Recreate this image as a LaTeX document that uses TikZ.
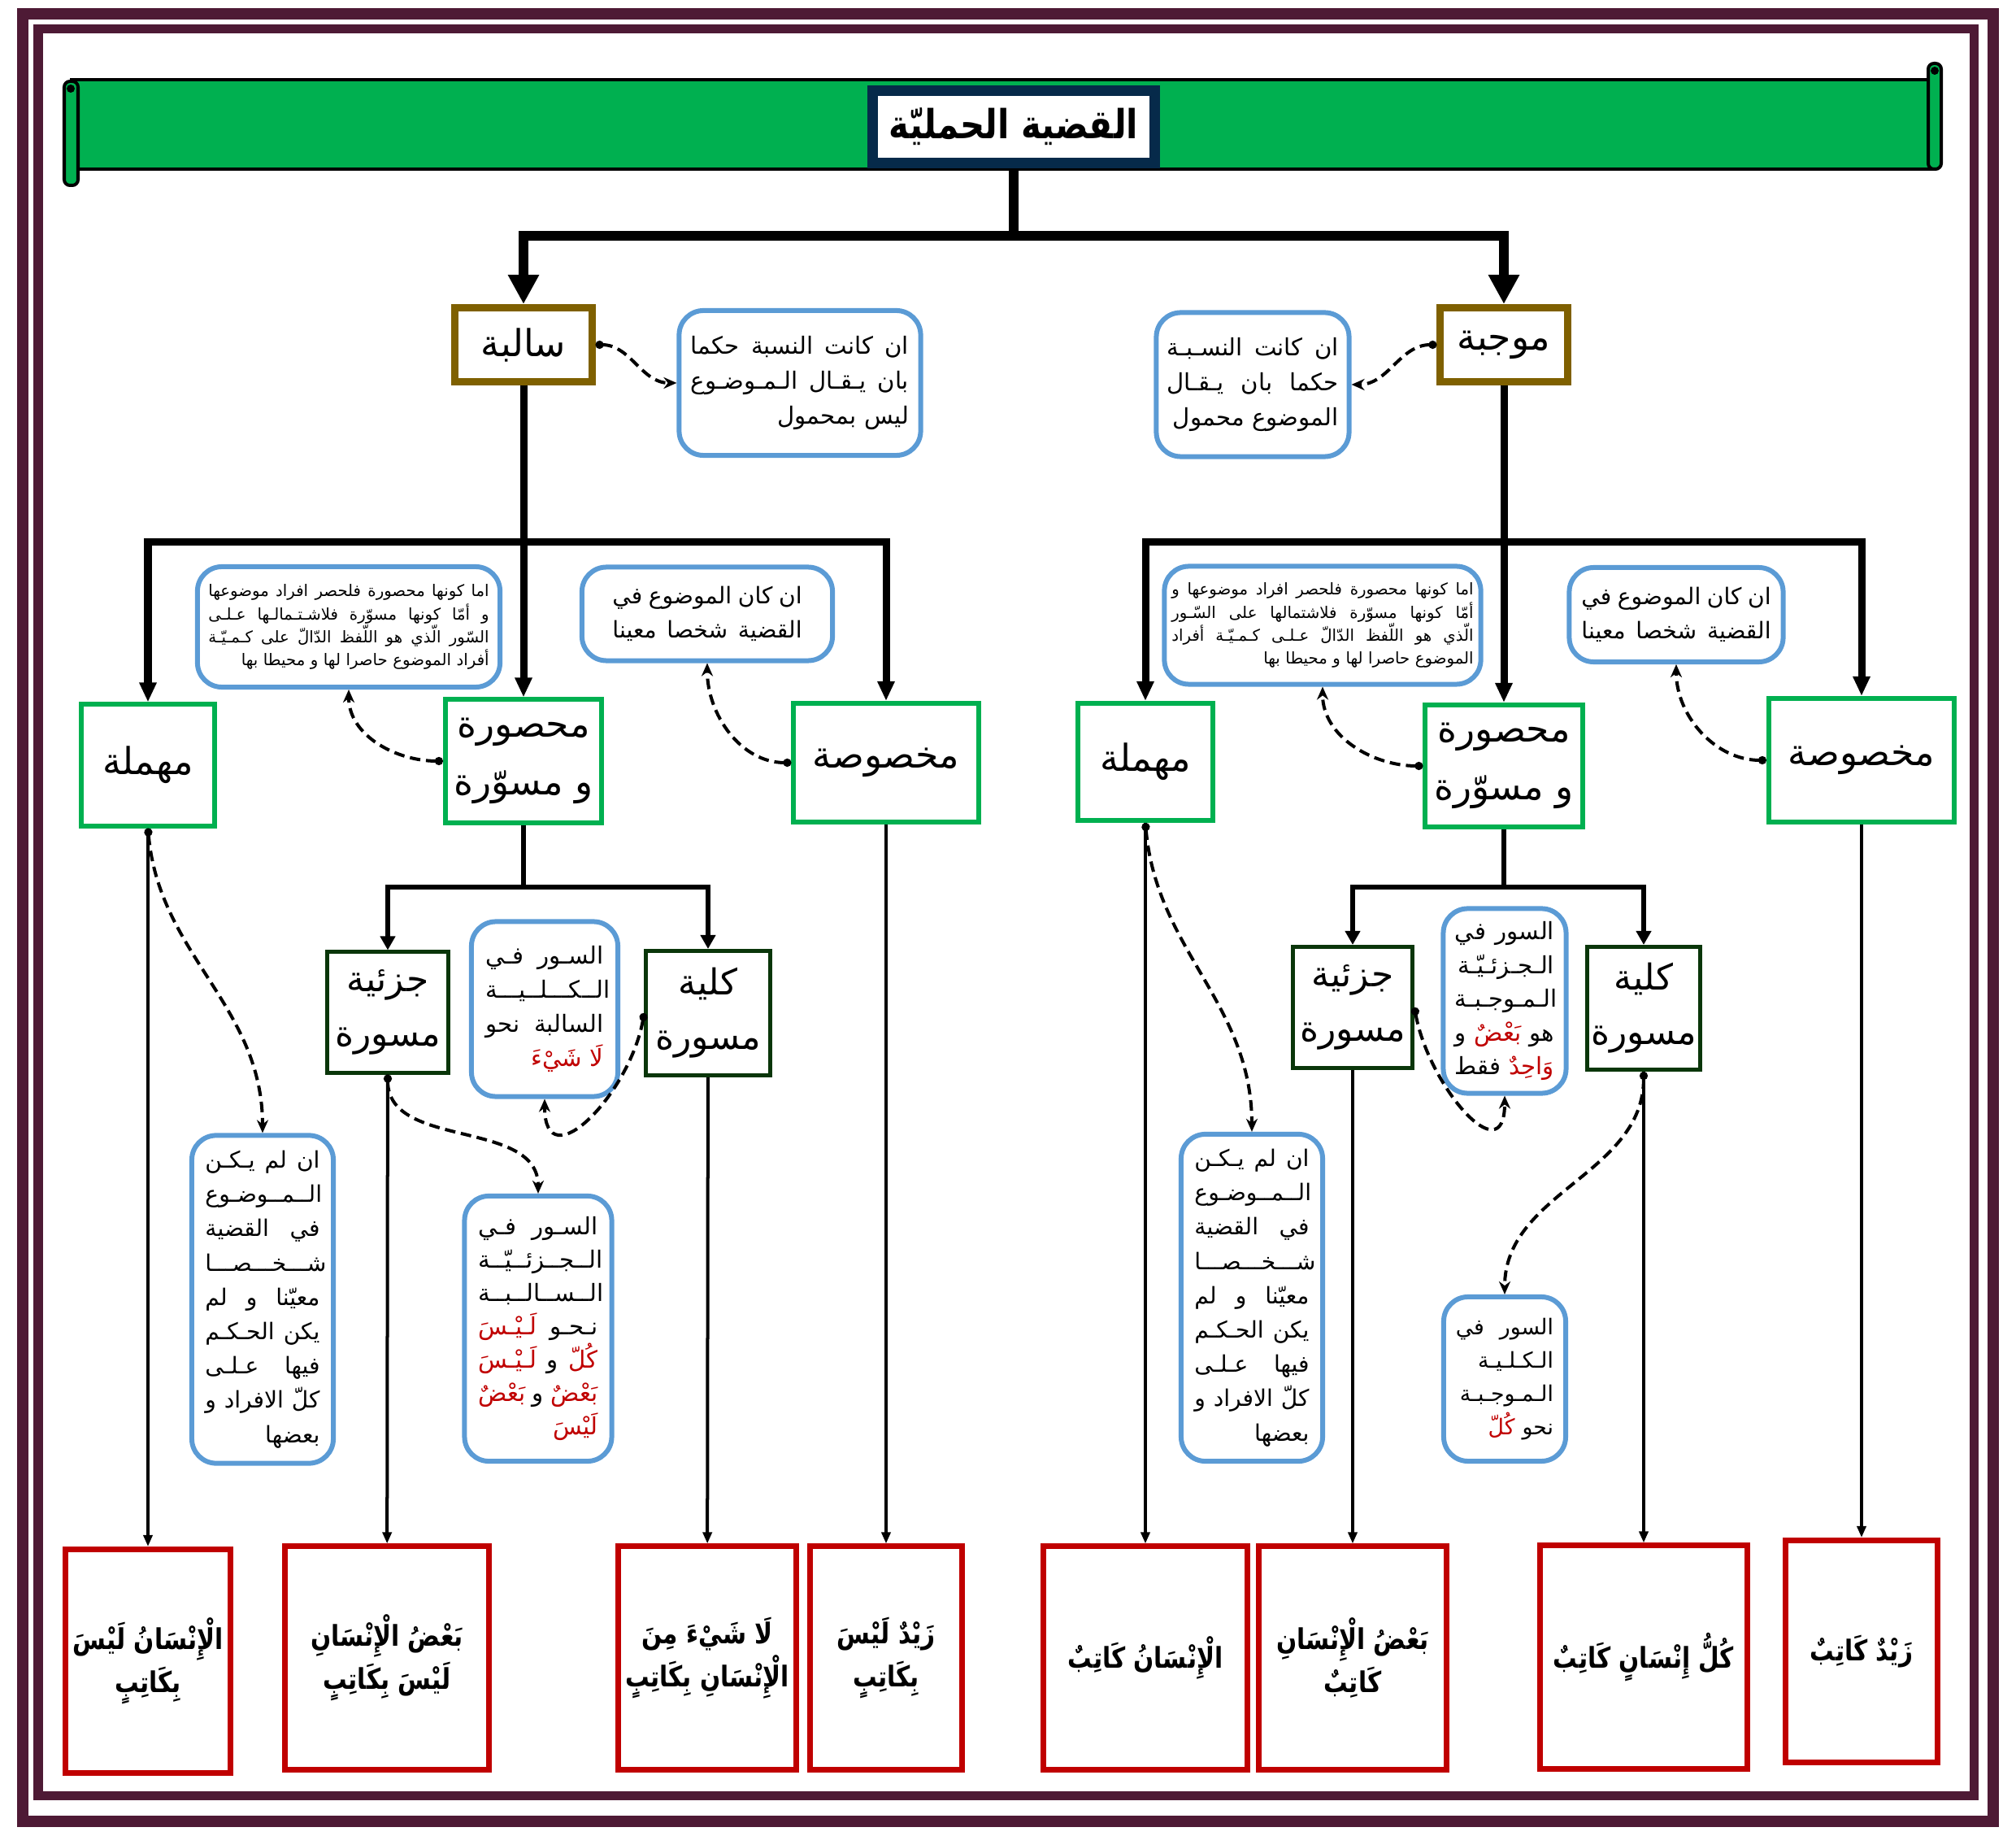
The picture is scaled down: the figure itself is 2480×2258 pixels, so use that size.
\documentclass[tikz,border=0pt]{standalone}
\usepackage{fontspec}
\usepackage{graphicx}
\usetikzlibrary{arrows.meta}
\newfontfamily\arabicfont[Script=Arabic]{DejaVu Sans}
\TeXXeTstate=1
\definecolor{framec}{HTML}{4E1A35}
\definecolor{bannerc}{HTML}{00B050}
\definecolor{titlec}{HTML}{062A4A}
\definecolor{kindc}{HTML}{7F6000}
\definecolor{subc}{HTML}{00B050}
\definecolor{quantc}{HTML}{0A360A}
\definecolor{notec}{HTML}{5B9BD5}
\definecolor{exc}{HTML}{C00000}
\newcommand{\ar}[1]{\beginR#1\endR}
\newcommand{\rd}[1]{\textcolor{exc}{\ar{#1}}}
\newcommand{\ex}[1]{\scalebox{0.84}[1]{\ar{#1}}}
\newcommand{\fl}[1]{\makebox[\hsize]{#1}}
% justified line: \jl{\beginR words\endR}, words spread over the line
\makeatletter
\newcommand{\jl}[1]{\jl@strip#1}
\def\jl@strip\beginR#1\endR{\def\jl@acc{}\jl@scan#1 \@nil\makebox[\hsize]{\jl@acc}}
\def\jl@scan#1 #2\@nil{%
  \ifx\jl@acc\@empty\def\jl@acc{\ar{#1}}%
  \else\edef\jl@acc{\unexpanded{\ar{#1}\hfill}\unexpanded\expandafter{\jl@acc}}\fi
  \if\relax\detokenize{#2}\relax\else\jl@scan#2\@nil\fi}
\makeatother
\begin{document}
\begin{tikzpicture}[x=0.01cm, y=-0.01cm,
  title node/.style={draw=titlec, line width=0.13cm, fill=white, inner sep=0pt, minimum width=3.46cm, minimum height=0.89cm, font=\arabicfont\bfseries\fontsize{14}{17}\selectfont},
  kind node/.style={draw=kindc, line width=0.09cm, fill=white, inner sep=0pt, minimum height=0.91cm, font=\arabicfont\fontsize{13}{16}\selectfont},
  sub node/.style={draw=subc, line width=0.06cm, fill=white, inner sep=0pt, align=center, font=\arabicfont\fontsize{13}{20}\selectfont},
  quant node/.style={draw=quantc, line width=0.05cm, fill=white, inner sep=0pt, align=center, font=\arabicfont\fontsize{12.5}{19}\selectfont},
  note node/.style={draw=notec, line width=0.06cm, rounded corners=0.3cm, fill=white, inner sep=0pt, align=right, font=\arabicfont\fontsize{8.3}{12}\selectfont},
  example node/.style={draw=exc, line width=0.07cm, fill=white, inner sep=0pt, align=center, minimum height=2.74cm, font=\arabicfont\bfseries\fontsize{10}{15}\selectfont},
  top line/.style={line width=0.12cm},
  top arrow/.style={top line, -{Triangle[length=0.36cm,width=0.36cm]}},
  mid line/.style={line width=0.09cm},
  mid arrow/.style={mid line, -{Triangle[length=0.24cm,width=0.2cm]}},
  low line/.style={line width=0.06cm},
  low arrow/.style={low line, -{Triangle[length=0.17cm,width=0.18cm]}},
  ex arrow/.style={line width=0.04cm, -{Triangle[length=0.14cm,width=0.11cm]}},
  curve link/.style={dash pattern=on 0.13cm off 0.07cm, line width=0.04cm, {Circle[length=0.1cm]}-{Stealth[length=0.16cm,width=0.14cm]}}]
\useasboundingbox (0,0) rectangle (2480,2258);
% frame
\draw[framec, line width=0.14cm] (28,17) rectangle (2452,2240);
\draw[framec, line width=0.11cm] (47,36) rectangle (2428,2208);
% banner
\filldraw[fill=bannerc, draw=black, line width=0.04cm] (88,98) rectangle (2380,208);
\filldraw[fill=bannerc, draw=black, line width=0.04cm, rounded corners=0.07cm] (79,100) rectangle (96,228);
\filldraw[fill=bannerc, draw=black, line width=0.04cm, rounded corners=0.07cm] (2372,78) rectangle (2388,208);
\fill (87,109) circle (5);
\fill (2380,87) circle (5);
\node[title node] (title) at (1247,156) {\scalebox{0.85}[1]{\ar{القضية الحمليّة}}};

\node[kind node, minimum width=1.68cm] (salba) at (644,424) {\ar{سالبة}};
\node[kind node, minimum width=1.56cm] (mujaba) at (1850,424) {\ar{موجبة}};
\node[note node, minimum width=2.97cm, minimum height=1.78cm, text width=2.68cm, font=\arabicfont\fontsize{8.3}{12.2}\selectfont] (nsalba) at (984,471)
  {\jl{\beginR ان كانت النسبة حكما\endR}\\ \jl{\beginR بان يـقـال الـمـوضـوع\endR}\\ \ar{ليس بمحمول}};
\node[note node, minimum width=2.37cm, minimum height=1.77cm, text width=2.11cm, font=\arabicfont\fontsize{8.3}{12.2}\selectfont] (nmujaba) at (1541,473)
  {\jl{\beginR ان كانت النسـبـة\endR}\\ \jl{\beginR حكما بان يـقـال\endR}\\ \ar{الموضوع محمول}};

\begin{scope}[every node/.style={sub node}]
\node[minimum width=1.63cm, minimum height=1.49cm] (mhl1) at (182,941) {\ar{مهملة}};
\node[minimum width=1.92cm, minimum height=1.51cm] (mhs1) at (644,936) {\ar{محصورة}\\ \ar{و مسوّرة}};
\node[minimum width=2.27cm, minimum height=1.46cm] (mkh1) at (1090,938) {\ar{مخصوصة}};
\node[minimum width=1.65cm, minimum height=1.44cm] (mhl2) at (1409,937) {\ar{مهملة}};
\node[minimum width=1.93cm, minimum height=1.50cm] (mhs2) at (1850,942) {\ar{محصورة}\\ \ar{و مسوّرة}};
\node[minimum width=2.28cm, minimum height=1.52cm] (mkh2) at (2290,935) {\ar{مخصوصة}};
\end{scope}

\node[note node, minimum width=3.72cm, minimum height=1.48cm, text width=3.45cm, font=\arabicfont\fontsize{5.6}{8}\selectfont] (nmhs1) at (429,771)
  {\jl{\beginR اما كونها محصورة فلحصر افراد موضوعها\endR}\\ \jl{\beginR و أمّا كونها مسوّرة فلاشـتـمالـها عـلـى\endR}\\ \jl{\beginR السّور الّذي هو اللّفظ الدّالّ على كـمـيّـة\endR}\\ \ar{أفراد الموضوع حاصرا لها و محيطا بها}};
\node[note node, minimum width=3.08cm, minimum height=1.15cm, text width=2.33cm, font=\arabicfont\fontsize{8}{12}\selectfont] (nmkh1) at (870,755)
  {\jl{\beginR ان كان الموضوع في\endR}\\ \jl{\beginR القضية شخصا معينا\endR}};
\node[note node, minimum width=3.89cm, minimum height=1.45cm, text width=3.71cm, font=\arabicfont\fontsize{5.6}{8}\selectfont] (nmhs2) at (1627,769)
  {\jl{\beginR اما كونها محصورة فلحصر افراد موضوعها و\endR}\\ \jl{\beginR أمّا كونها مسوّرة فلاشتمالها على السّـور\endR}\\ \jl{\beginR الّذي هو اللّفظ الدّالّ عـلـى كـمـيّـة أفراد\endR}\\ \ar{الموضوع حاصرا لها و محيطا بها}};
\node[note node, minimum width=2.63cm, minimum height=1.16cm, text width=2.33cm, font=\arabicfont\fontsize{8}{12}\selectfont] (nmkh2) at (2062,756)
  {\jl{\beginR ان كان الموضوع في\endR}\\ \jl{\beginR القضية شخصا معينا\endR}};

\begin{scope}[every node/.style={quant node}]
\node[minimum width=1.49cm, minimum height=1.48cm] (jz1) at (477,1245) {\ar{جزئية}\\ \ar{مسورة}};
\node[minimum width=1.52cm, minimum height=1.53cm] (kl1) at (871,1246) {\ar{كلية}\\ \ar{مسورة}};
\node[minimum width=1.47cm, minimum height=1.49cm] (jz2) at (1664,1239) {\ar{جزئية}\\ \ar{مسورة}};
\node[minimum width=1.39cm, minimum height=1.51cm] (kl2) at (2022,1240) {\ar{كلية}\\ \ar{مسورة}};
\end{scope}

\node[note node, minimum width=1.80cm, minimum height=2.15cm, text width=1.45cm] (nkl1) at (670,1241)
  {\jl{\beginR السـور فـي\endR}\\ \ar{الــكـــلــيـــة}\\ \jl{\beginR السالبة نحو\endR}\\ \rd{لَا شَيْءَ}};
\node[note node, minimum width=1.51cm, minimum height=2.27cm, text width=1.22cm, font=\arabicfont\fontsize{8.3}{11.8}\selectfont] (njz2) at (1851,1231)
  {\jl{\beginR السور في\endR}\\ \ar{الـجـزئـيّـة}\\ \ar{الـمـوجـبـة}\\ \fl{\ar{و}\hfill\rd{بَعْضٌ}\hfill\ar{هو}}\\ \fl{\ar{فقط}\hfill\rd{وَاحِدٌ}}};
\node[note node, minimum width=1.81cm, minimum height=3.26cm, text width=1.47cm, font=\arabicfont\fontsize{8.3}{11.7}\selectfont] (njz1) at (662,1634)
  {\jl{\beginR السـور فـي\endR}\\ \ar{الــجــزئــيّــة}\\ \ar{الــســالــبــة}\\ \fl{\rd{لَـيْـسَ}\hfill\ar{نـحـو}}\\ \fl{\rd{لَـيْـسَ}\hfill\ar{و}\hfill\rd{كُلّ}}\\ \fl{\rd{بَعْضٌ}\hfill\ar{و}\hfill\rd{بَعْضٌ}}\\ \rd{لَيْسَ}};
\node[note node, minimum width=1.50cm, minimum height=2.02cm, text width=1.20cm, font=\arabicfont\fontsize{7.6}{11.7}\selectfont] (nkl2) at (1851,1696)
  {\jl{\beginR السور في\endR}\\ \ar{الـكـلـيـة}\\ \ar{الـمـوجـبـة}\\ \rd{كُلّ} \ar{نحو}};
\node[note node, minimum width=1.74cm, minimum height=4.03cm, text width=1.41cm, font=\arabicfont\fontsize{8}{12}\selectfont] (nmhl1) at (323,1598)
  {\jl{\beginR ان لم يـكـن\endR}\\ \ar{الــمــوضـوع}\\ \jl{\beginR في القضية\endR}\\ \ar{شـــخـــصـــا}\\ \jl{\beginR معيّنا و لم\endR}\\ \jl{\beginR يكن الحـكـم\endR}\\ \jl{\beginR فيها عـلـى\endR}\\ \jl{\beginR كلّ الافراد و\endR}\\ \ar{بعضها}};
\node[note node, minimum width=1.74cm, minimum height=4.02cm, text width=1.41cm, font=\arabicfont\fontsize{8}{12}\selectfont] (nmhl2) at (1540,1596)
  {\jl{\beginR ان لم يـكـن\endR}\\ \ar{الــمــوضـوع}\\ \jl{\beginR في القضية\endR}\\ \ar{شـــخـــصـــا}\\ \jl{\beginR معيّنا و لم\endR}\\ \jl{\beginR يكن الحـكـم\endR}\\ \jl{\beginR فيها عـلـى\endR}\\ \jl{\beginR كلّ الافراد و\endR}\\ \ar{بعضها}};

\begin{scope}[every node/.style={example node}]
\node[minimum width=2.03cm, minimum height=2.75cm] (ex1) at (182,2043) {\ex{الْإِنْسَانُ لَيْسَ}\\ \ex{بِكَاتِبٍ}};
\node[minimum width=2.50cm] (ex2) at (476,2039) {\ex{بَعْضُ الْإِنْسَانِ}\\ \ex{لَيْسَ بِكَاتِبٍ}};
\node[minimum width=2.18cm] (ex3) at (870,2039) {\ex{لَا شَيْءَ مِنَ}\\ \ex{الْإِنْسَانِ بِكَاتِبٍ}};
\node[minimum width=1.86cm] (ex4) at (1090,2039) {\ex{زَيْدٌ لَيْسَ}\\ \ex{بِكَاتِبٍ}};
\node[minimum width=2.50cm] (ex5) at (1409,2039) {\ex{الْإِنْسَانُ كَاتِبٌ}};
\node[minimum width=2.30cm] (ex6) at (1664,2039) {\ex{بَعْضُ الْإِنْسَانِ}\\ \ex{كَاتِبٌ}};
\node[minimum width=2.54cm] (ex7) at (2022,2038) {\ex{كُلُّ إِنْسَانٍ كَاتِبٌ}};
\node[minimum width=1.86cm, minimum height=2.73cm] (ex8) at (2290,2031) {\ex{زَيْدٌ كَاتِبٌ}};
\end{scope}

% tree lines
\coordinate (b0) at (1247,290);
\coordinate (bs) at (644,667);
\coordinate (bm) at (1850,667);
\coordinate (bs2) at (644,1091);
\coordinate (bm2) at (1850,1091);
\draw[top line] (title) -- (b0);
\draw[top arrow] (b0) -| (salba);
\draw[top arrow] (b0) -| (mujaba);
\draw[mid line] (salba) -- (bs);
\draw[mid arrow] (bs) -| (mhl1);
\draw[mid arrow] (bs) -- (mhs1);
\draw[mid arrow] (bs) -| (mkh1);
\draw[mid line] (mujaba) -- (bm);
\draw[mid arrow] (bm) -| (mhl2);
\draw[mid arrow] (bm) -- (mhs2);
\draw[mid arrow] (bm) -| (mkh2);
\draw[low line] (mhs1) -- (bs2);
\draw[low arrow] (bs2) -| (jz1);
\draw[low arrow] (bs2) -| (kl1);
\draw[low line] (mhs2) -- (bm2);
\draw[low arrow] (bm2) -| (jz2);
\draw[low arrow] (bm2) -| (kl2);
\draw[ex arrow] (mhl1) -- (ex1);
\draw[ex arrow] (jz1) -- (ex2);
\draw[ex arrow] (kl1) -- (ex3);
\draw[ex arrow] (mkh1) -- (ex4);
\draw[ex arrow] (mhl2) -- (ex5);
\draw[ex arrow] (jz2) -- (ex6);
\draw[ex arrow] (kl2) -- (ex7);
\draw[ex arrow] (mkh2) -- (ex8);
% dashed notes
\draw[curve link] (salba.east) to[out=0,in=180] (nsalba.west);
\draw[curve link] (mujaba.west) to[out=180,in=0] (nmujaba.east);
\draw[curve link] (mhs1.west) to[out=180,in=-90] (nmhs1.south);
\draw[curve link] (mkh1.west) to[out=180,in=-90] (nmkh1.south);
\draw[curve link] (mhs2.west) to[out=180,in=-90] (nmhs2.south);
\draw[curve link] (mkh2.west) to[out=180,in=-90] (nmkh2.south);
\draw[curve link] (mhl1.south) to[out=-85,in=90] (nmhl1.north);
\draw[curve link] (mhl2.south) to[out=-85,in=90] (nmhl2.north);
\draw[curve link] (jz1.south) to[out=-90,in=90] (njz1.north);
\draw[curve link] (kl2.south) to[out=-90,in=90] (nkl2.north);
\draw[curve link] (kl1.west) to[out=-100,in=-90,looseness=1.6] (nkl1.south);
\draw[curve link] (jz2.east) to[out=-80,in=-90,looseness=1.6] (njz2.south);
\end{tikzpicture}
\end{document}
